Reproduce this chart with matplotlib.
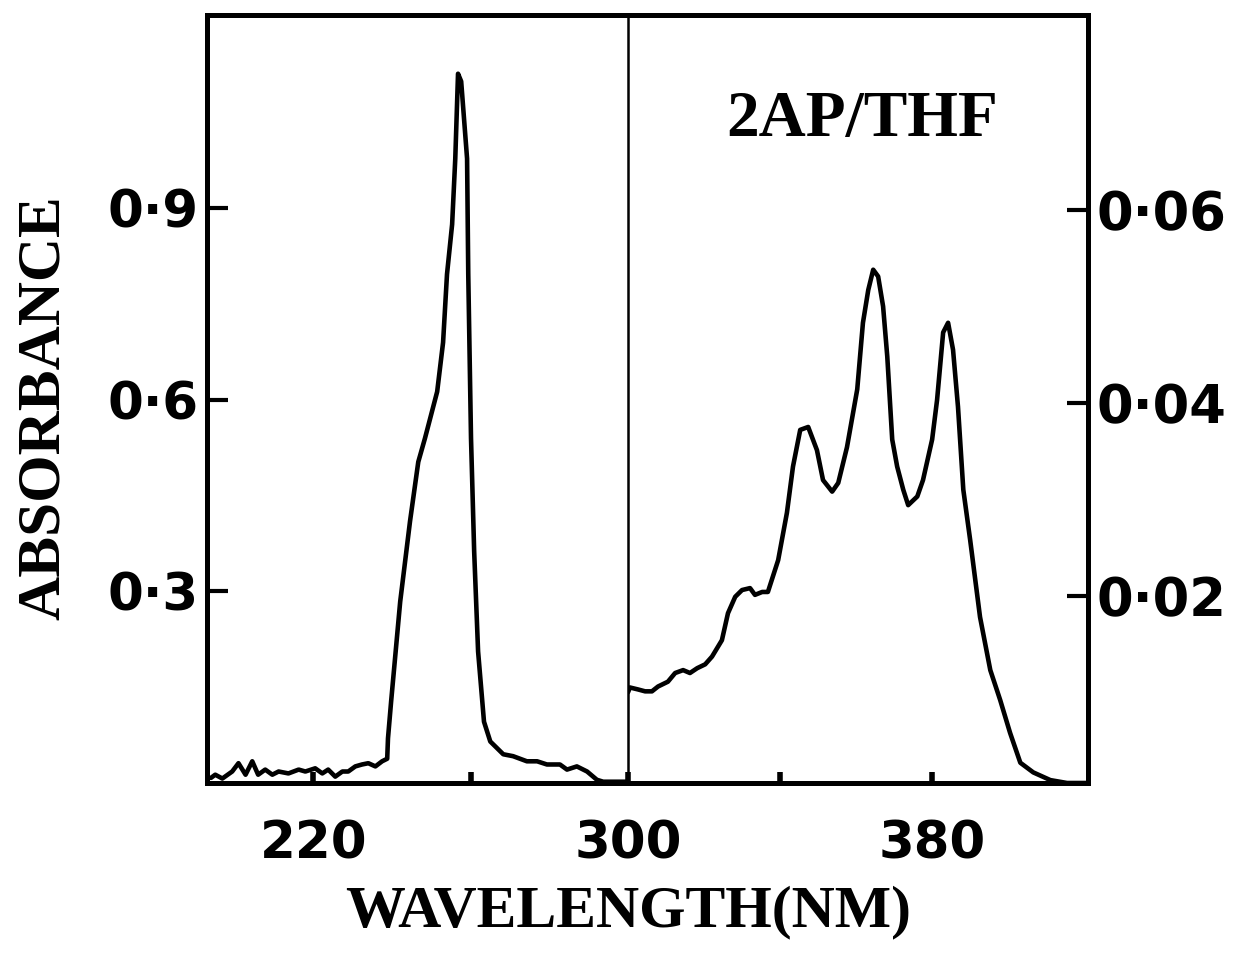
import matplotlib
matplotlib.use("Agg")
from matplotlib import pyplot as plt

# UV absorption of 2AP in THF, two ranges with separate absorbance scales
# short wavelength part (left scale)
wl_short = [194.0, 195.1, 196.9, 199.4, 201.0, 202.8, 204.5, 206.0, 207.8, 209.6,
            211.2, 213.7, 216.3, 218.0, 220.5, 222.3, 223.8, 225.6, 227.4, 228.9,
            230.7, 232.4, 234.0, 235.8, 237.5, 238.8, 239.0, 239.8, 242.1, 244.6,
            246.7, 248.4, 251.5, 253.0, 254.0, 255.3, 256.1, 256.8, 257.6, 259.1,
            259.4, 259.9, 260.1, 260.9, 261.9, 263.4, 265.0, 268.3, 270.8, 274.3,
            276.9, 279.4, 282.7, 284.5, 287.0, 289.6, 292.1, 293.7, 298.7, 300.0]
abs_short = [0.008, 0.013, 0.007, 0.018, 0.031, 0.013, 0.034, 0.013, 0.021, 0.013,
             0.018, 0.015, 0.021, 0.018, 0.023, 0.015, 0.021, 0.010, 0.018, 0.018,
             0.026, 0.029, 0.031, 0.026, 0.034, 0.038, 0.070, 0.128, 0.284, 0.410,
             0.503, 0.540, 0.613, 0.690, 0.797, 0.875, 0.978, 1.111, 1.099, 0.978,
             0.797, 0.613, 0.540, 0.363, 0.206, 0.096, 0.065, 0.045, 0.042, 0.034,
             0.034, 0.029, 0.029, 0.021, 0.026, 0.018, 0.005, 0.002, 0.002, 0.002]

# long wavelength part (right scale)
wl_long = [300.0, 300.5, 302.6, 304.5, 306.3, 307.9, 310.5, 312.4, 314.5, 316.3,
           318.2, 320.3, 322.1, 324.7, 326.3, 328.2, 330.0, 332.1, 333.4, 335.3,
           336.8, 339.5, 341.8, 343.4, 345.3, 347.4, 349.7, 351.3, 353.7, 355.3,
           357.6, 360.3, 361.8, 363.2, 364.5, 365.8, 367.1, 368.2, 369.5, 370.8,
           372.4, 373.7, 376.1, 377.6, 380.0, 381.3, 382.9, 384.2, 385.5, 386.8,
           388.2, 390.0, 392.6, 395.3, 397.9, 400.5, 403.2, 406.6, 411.1, 415.5,
           420.8]
abs_long = [0.0100, 0.0105, 0.0103, 0.0101, 0.0101, 0.0106, 0.0111, 0.0120, 0.0123,
            0.0120, 0.0125, 0.0129, 0.0137, 0.0154, 0.0182, 0.0199, 0.0206, 0.0208,
            0.0201, 0.0204, 0.0204, 0.0237, 0.0286, 0.0334, 0.0372, 0.0375, 0.0351,
            0.0320, 0.0308, 0.0317, 0.0354, 0.0414, 0.0483, 0.0517, 0.0538, 0.0531,
            0.0500, 0.0448, 0.0362, 0.0334, 0.0310, 0.0294, 0.0303, 0.0320, 0.0362,
            0.0403, 0.0473, 0.0483, 0.0455, 0.0396, 0.0310, 0.0258, 0.0178, 0.0123,
            0.0092, 0.0058, 0.0027, 0.0017, 0.0009, 0.0006, 0.0006]

yticks_short = [0.3, 0.6, 0.9]
yticks_long = [0.02, 0.04, 0.06]
ylabels_short = ["0\u00b73", "0\u00b76", "0\u00b79"]
ylabels_long = ["0\u00b702", "0\u00b704", "0\u00b706"]

tick_font = {"family": "DejaVu Sans", "weight": "bold", "size": 37}
serif = ["Liberation Serif", "DejaVu Serif"]

fig = plt.figure(figsize=(12.5, 9.55), dpi=100)
ax1 = fig.add_axes([207 / 1250, 172 / 955, 421 / 1250, 768 / 955])
ax2 = fig.add_axes([628 / 1250, 172 / 955, 460 / 1250, 768 / 955])

ax1.plot(wl_short, abs_short, color="black", lw=3.3,
         solid_joinstyle="round", solid_capstyle="round")
ax2.plot(wl_long, abs_long, color="black", lw=3.3,
         solid_joinstyle="round", solid_capstyle="round")

ax1.set_xlim(193, 300)
ax1.set_ylim(0, 1.203)
ax2.set_xlim(300, 421)
ax2.set_ylim(0.0006, 0.0802)

for ax in (ax1, ax2):
    for s in ax.spines.values():
        s.set_linewidth(3.6)
        s.set_color("black")
ax1.spines["right"].set_visible(False)
ax2.spines["left"].set_linewidth(1.8)

ax1.set_yticks(yticks_short)
ax1.set_yticklabels(ylabels_short, fontdict=tick_font)
ax1.set_xticks([220, 260])
ax1.set_xticklabels(["220", ""], fontdict=tick_font)
ax1.tick_params(axis="y", direction="in", length=15, width=3, pad=6)
ax1.tick_params(axis="x", direction="in", length=8, width=4, pad=26)

ax2.yaxis.tick_right()
ax2.set_yticks(yticks_long)
ax2.set_yticklabels(ylabels_long, fontdict=dict(tick_font, size=38))
ax2.set_xticks([300, 340, 380])
ax2.set_xticklabels(["300", "", "380"], fontdict=tick_font)
ax2.tick_params(axis="y", direction="in", length=15, width=3, pad=6)
ax2.tick_params(axis="x", direction="in", length=8, width=4, pad=26)

ax2.text(0.509, 0.863, "2AP/THF", transform=ax2.transAxes, ha="center",
         va="center", family=serif, weight="bold", fontsize=47)
fig.text(44 / 1250, 1 - 408 / 955, "ABSORBANCE", rotation=90, ha="center",
         va="center", family=serif, weight="bold", fontsize=44)
fig.text(628 / 1250, 1 - 912 / 955, "WAVELENGTH(NM)", ha="center", va="center",
         family=serif, weight="bold", fontsize=43)

fig.savefig("out.png", dpi=100, facecolor="white")
